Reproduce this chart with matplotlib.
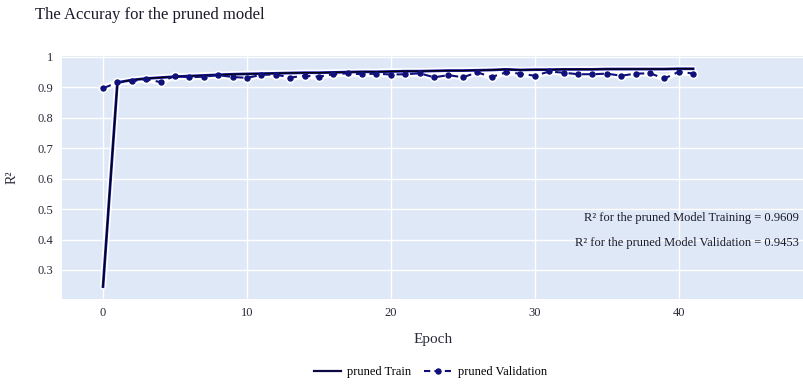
import matplotlib
matplotlib.use("Agg")
import matplotlib.pyplot as plt
import matplotlib.ticker as ticker
from matplotlib.lines import Line2D

# values
epochs = list(range(42))
train_r2 = [0.245, 0.916, 0.924, 0.929, 0.932, 0.935, 0.937, 0.939, 0.941, 0.943,
            0.944, 0.945, 0.946, 0.947, 0.948, 0.948, 0.949, 0.950, 0.951, 0.951,
            0.952, 0.953, 0.953, 0.954, 0.955, 0.955, 0.956, 0.957, 0.959, 0.957,
            0.958, 0.958, 0.959, 0.959, 0.959, 0.960, 0.960, 0.960, 0.960, 0.960,
            0.961, 0.9609]
val_r2 = [0.897, 0.916, 0.920, 0.927, 0.917, 0.938, 0.933, 0.935, 0.940, 0.934,
          0.931, 0.941, 0.942, 0.932, 0.938, 0.935, 0.943, 0.946, 0.943, 0.945,
          0.942, 0.943, 0.946, 0.933, 0.940, 0.933, 0.949, 0.934, 0.949, 0.945,
          0.938, 0.952, 0.948, 0.943, 0.943, 0.945, 0.938, 0.945, 0.946, 0.929,
          0.951, 0.9453]
y_ticks = [0.3, 0.4, 0.5, 0.6, 0.7, 0.8, 0.9, 1.0]
x_ticks = [0, 10, 20, 30, 40]
train_final = 0.9609
val_final = 0.9453

plt.rcParams['font.family'] = ['Liberation Serif', 'DejaVu Serif']

fig = plt.figure(figsize=(8.04, 3.86), dpi=100)
ax = fig.add_axes([0.0771, 0.2254, 0.9229, 0.6296])
ax.set_facecolor('#dfe8f7')

# white halo under the lines, then the lines themselves
ax.plot(epochs, train_r2, color='white', linewidth=4.5, solid_capstyle='round', zorder=2)
ax.plot(epochs, val_r2, color='white', linewidth=4.5, marker='o', markersize=6,
        markeredgecolor='white', zorder=2)
ax.plot(epochs, train_r2, color='#1a1ab0', linewidth=2.0, zorder=3)
ax.plot(epochs, train_r2, color='black', linewidth=1.0, zorder=4)
ax.plot(epochs, val_r2, color='#10107a', linewidth=1.5, linestyle=(0, (4, 2.5)),
        marker='o', markersize=3.6, zorder=5)

ax.set_xlim(-2.85, 48.7)
ax.set_ylim(0.2046, 1.003)
ax.set_xticks(x_ticks)
ax.set_yticks(y_ticks)
ax.yaxis.set_major_formatter(ticker.FuncFormatter(lambda v, pos: f"{v:g}"))
ax.grid(True, color='white', linewidth=1.0)
ax.set_axisbelow(True)
for s in ax.spines.values():
    s.set_visible(False)
ax.tick_params(length=0, labelsize=9, colors='#2a2a3a', pad=6)

ax.set_xlabel('Epoch', fontsize=11, color='#2a2a3a', labelpad=10)
ax.set_ylabel('R²', fontsize=10, color='#2a2a3a', labelpad=14)

ax.text(0.993, 0.335, f"R² for the pruned Model Training = {train_final}",
        transform=ax.transAxes, ha='right', va='center', fontsize=9, color='#1a1a2a')
ax.text(0.993, 0.232, f"R² for the pruned Model Validation = {val_final}",
        transform=ax.transAxes, ha='right', va='center', fontsize=9, color='#1a1a2a')

fig.text(0.044, 0.962, 'The Accuray for the pruned model', fontsize=12,
         color='#1a1a2a', ha='left', va='center')

handles = [Line2D([], [], color='#0a0a40', linewidth=1.6),
           Line2D([], [], color='#10107a', linewidth=1.5, linestyle=(0, (3, 2)),
                  marker='o', markersize=3.6)]
fig.legend(handles, ['pruned Train', 'pruned Validation'], loc='center',
           bbox_to_anchor=(0.535, 0.036), ncol=2, frameon=False, fontsize=9,
           handlelength=2.2, columnspacing=1.0, handletextpad=0.5)

fig.savefig('out.png', dpi=100)
